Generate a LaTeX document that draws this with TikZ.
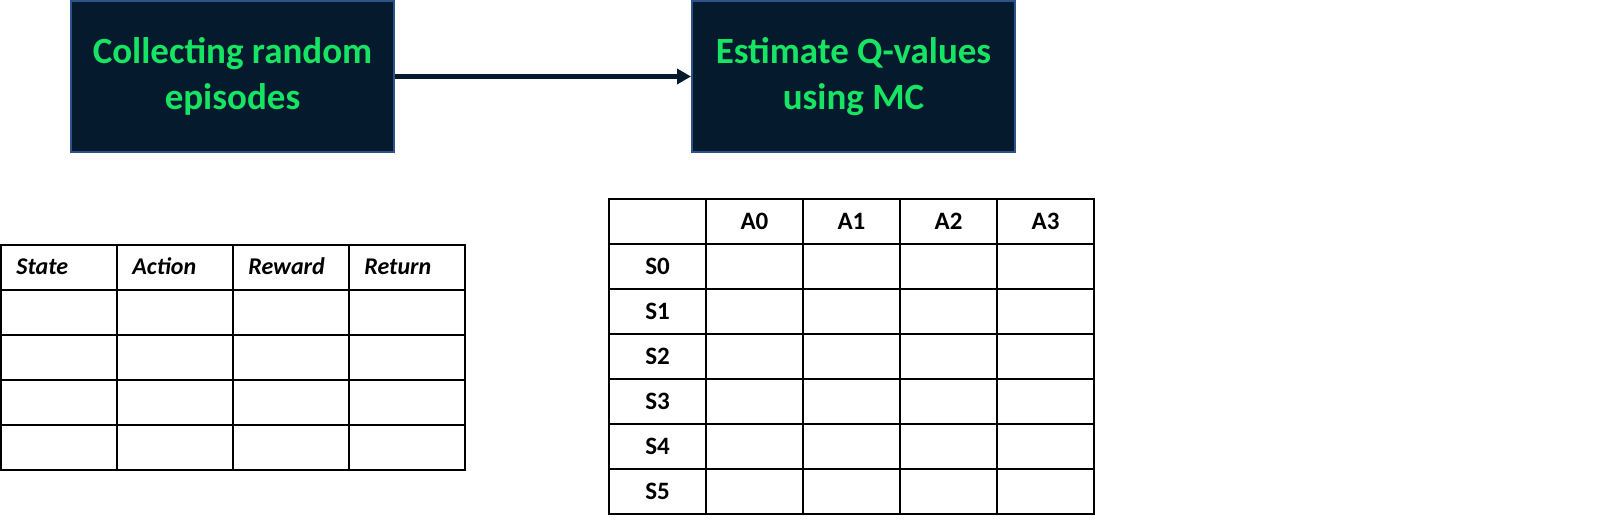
\documentclass[tikz,border=0pt]{standalone}
\usepackage{fontspec}
\setmainfont{Carlito}
\usetikzlibrary{arrows.meta,positioning}
\definecolor{navy}{RGB}{6,26,46}
\definecolor{boxline}{RGB}{47,82,143}
\definecolor{mcgreen}{RGB}{22,228,99}
\tikzset{
  procbox/.style={draw=boxline, line width=1pt, fill=navy, text=mcgreen,
    font=\fontsize{18.5}{23}\selectfont\bfseries, align=center,
    minimum width=161.5pt, minimum height=75.5pt, inner sep=0pt},
  gridline/.style={line width=1pt, line cap=rect},
  headtxt/.style={font=\fontsize{12}{14}\selectfont\bfseries\itshape, anchor=base west, inner sep=0pt},
  qtxt/.style={font=\fontsize{12.5}{14}\selectfont\bfseries, anchor=base, inner sep=0pt}
}
\begin{document}
\begin{tikzpicture}[x=0.5pt,y=-0.5pt]
\useasboundingbox (0,0) rectangle (1612,523);

% Process boxes
\node[procbox] (collect) at (232.5,76.5) {Collecting random\\episodes};
\node[procbox, right=148pt of collect] (estimate) {Estimate Q-values\\using MC};
\draw[-{Triangle[length=7pt,width=7.5pt]}, line width=2.5pt, navy] (collect) -- (estimate);

% Episode table
\foreach \i in {0,...,4}
  \draw[gridline] (1+116*\i,245) -- (1+116*\i,470);
\foreach \j in {0,...,5}
  \draw[gridline] (1,245+45*\j) -- (465,245+45*\j);
\foreach \nm/\lbl [count=\k from 0] in {state/State, action/Action, reward/Reward, return/Return}
  \node[headtxt] (\nm) at (16+116*\k,275) {\lbl};

% Q-table
\foreach \i in {0,...,5}
  \draw[gridline] (609+97*\i,199) -- (609+97*\i,514);
\foreach \j in {0,...,7}
  \draw[gridline] (609,199+45*\j) -- (1094,199+45*\j);
\foreach \k in {0,...,3}
  \node[qtxt] (a\k) at (754.5+97*\k,230) {A\k};
\foreach \k in {0,...,5}
  \node[qtxt] (s\k) at (657.5,275+45*\k) {S\k};
\end{tikzpicture}
\end{document}
